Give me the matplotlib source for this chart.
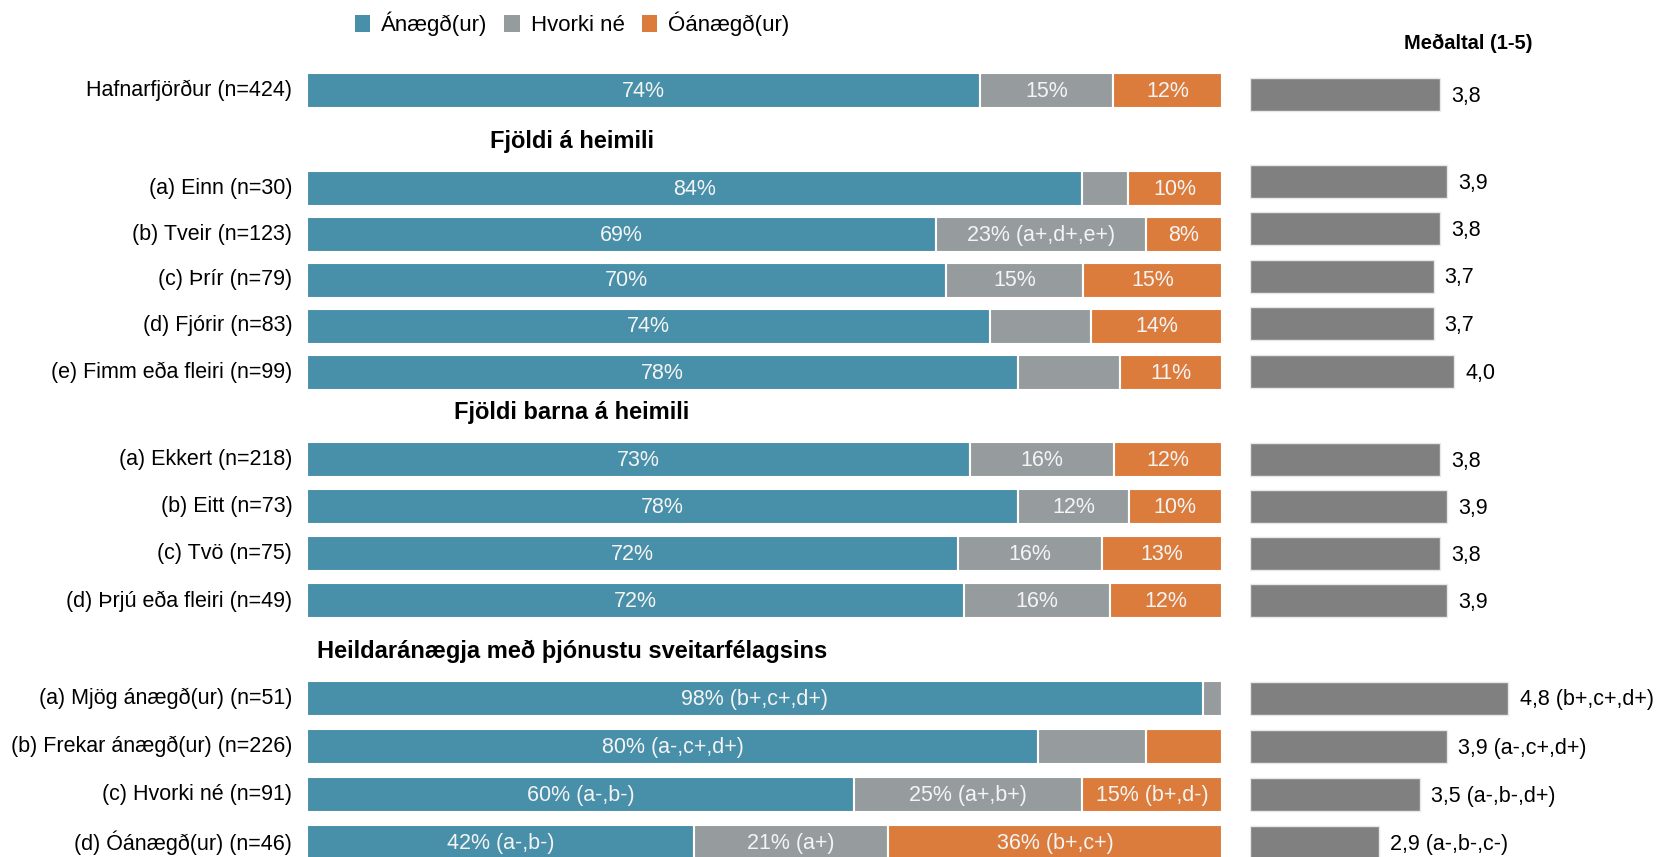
import matplotlib
matplotlib.use('Agg')
import matplotlib.pyplot as plt
from matplotlib.patches import Patch
from matplotlib.transforms import blended_transform_factory


categories = [
    'Hafnarfjörður (n=424)',
    '(a) Einn (n=30)', '(b) Tveir (n=123)', '(c) Þrír (n=79)',
    '(d) Fjórir (n=83)', '(e) Fimm eða fleiri (n=99)',
    '(a) Ekkert (n=218)', '(b) Eitt (n=73)', '(c) Tvö (n=75)',
    '(d) Þrjú eða fleiri (n=49)',
    '(a) Mjög ánægð(ur) (n=51)', '(b) Frekar ánægð(ur) (n=226)',
    '(c) Hvorki né (n=91)', '(d) Óánægð(ur) (n=46)',
]
group_sizes = [1, 5, 4, 4]
headers = ['Fjöldi á heimili', 'Fjöldi barna á heimili',
           'Heildaránægja með þjónustu sveitarfélagsins']

satisfied = [73.5, 84.7, 68.7, 69.8, 74.6, 77.7, 72.5, 77.7, 71.1, 71.8, 97.9, 79.9, 59.8, 42.3]
neutral = [14.6, 5.0, 23.0, 15.0, 11.1, 11.2, 15.7, 12.1, 15.8, 16.0, 2.1, 11.8, 24.9, 21.2]
dissatisfied = [11.9, 10.3, 8.3, 15.2, 14.3, 11.1, 11.8, 10.2, 13.1, 12.2, 0.0, 8.3, 15.3, 36.5]

sat_labels = ['74%', '84%', '69%', '70%', '74%', '78%', '73%', '78%', '72%', '72%',
              '98% (b+,c+,d+)', '80% (a-,c+,d+)', '60% (a-,b-)', '42% (a-,b-)']
neu_labels = ['15%', '', '23% (a+,d+,e+)', '15%', '', '', '16%', '12%', '16%', '16%',
              '', '', '25% (a+,b+)', '21% (a+)']
dis_labels = ['12%', '10%', '8%', '15%', '14%', '11%', '12%', '10%', '13%', '12%',
              '', '', '15% (b+,d-)', '36% (b+,c+)']

means = [3.8, 3.9, 3.8, 3.7, 3.7, 4.0, 3.8, 3.9, 3.8, 3.9, 4.8, 3.9, 3.5, 2.9]
mean_labels = ['3,8', '3,9', '3,8', '3,7', '3,7', '4,0', '3,8', '3,9', '3,8', '3,9',
               '4,8 (b+,c+,d+)', '3,9 (a-,c+,d+)', '3,5 (a-,b-,d+)', '2,9 (a-,b-,c-)']

series_names = ['Ánægð(ur)', 'Hvorki né', 'Óánægð(ur)']
colors = ['#488FA9', '#969C9E', '#DC7C3C']
mean_color = '#808080'

plt.rcParams['font.family'] = ['Liberation Sans', 'DejaVu Sans']
FS = 15.5

W, H = 1677, 857

# layout in pixels from the top: first row of each block and row pitch
group_start = [90, 188, 459, 698]
group_pitch = [0, 46, 47.3, 48.3]
row_y, mean_y, header_y = [], [], []
for g, size in enumerate(group_sizes):
    if g > 0:
        header_y.append(group_start[g] - 47)
    for i in range(size):
        y = group_start[g] + i * group_pitch[g]
        row_y.append(y)
        if g == 0:
            mean_y.append(y + 4)
        elif g == 1:
            mean_y.append(181 + i * 47.5)
        else:
            mean_y.append(y)

fig = plt.figure(figsize=(W / 100, H / 100), dpi=100)
ax = fig.add_axes([307 / W, 0, 915 / W, 1])
ax2 = fig.add_axes([1250 / W, 0, 427 / W, 1])
for a in (ax, ax2):
    a.set_ylim(H, 0)
    a.axis('off')
ax.set_xlim(0, 100)
ax2.set_xlim(1, 1 + 427 / 68)

bar_h = 35
left = [0] * len(categories)
for vals, labs, col in zip([satisfied, neutral, dissatisfied],
                           [sat_labels, neu_labels, dis_labels], colors):
    bars = ax.barh(row_y, vals, left=left, height=bar_h, color=col,
                   edgecolor='white', linewidth=1.5)
    for b, lab in zip(bars, labs):
        if lab:
            ax.text(b.get_x() + b.get_width() / 2, b.get_y() + b.get_height() / 2 + 1,
                    lab, ha='center', va='center', color='#F4F4F4', fontsize=FS)
    left = [l + v for l, v in zip(left, vals)]

for y, name in zip(row_y, categories):
    ax.text(-0.016, y, name, transform=ax.get_yaxis_transform(),
            ha='right', va='center', color='black', fontsize=FS)

bars = ax2.barh(mean_y, [m - 1 for m in means], left=1, height=33, color=mean_color,
                edgecolor='#e8e8e8', linewidth=1)
for b, lab in zip(bars, mean_labels):
    ax2.annotate(lab, (b.get_x() + b.get_width(), b.get_y() + b.get_height() / 2 + 2),
                 xytext=(8, 0), textcoords='offset points',
                 ha='left', va='center', color='black', fontsize=FS)

htrans = blended_transform_factory(fig.transFigure, ax.transData)
for y, h in zip(header_y, headers):
    ax.text(572 / W, y, h, transform=htrans, ha='center', va='center',
            fontweight='bold', fontsize=17, color='black')

fig.text(1468 / W, 1 - 43 / H, 'Meðaltal (1-5)', ha='center', va='center',
         fontweight='bold', fontsize=14.5, color='black')

handles = [Patch(facecolor=c, edgecolor='none') for c in colors]
fig.legend(handles, series_names, loc='center', bbox_to_anchor=(572 / W, 1 - 24 / H),
           ncol=3, frameon=False, fontsize=16, handlelength=0.7, handleheight=0.8,
           handletextpad=0.5, columnspacing=0.75)

plt.savefig('out.png', dpi=100)
